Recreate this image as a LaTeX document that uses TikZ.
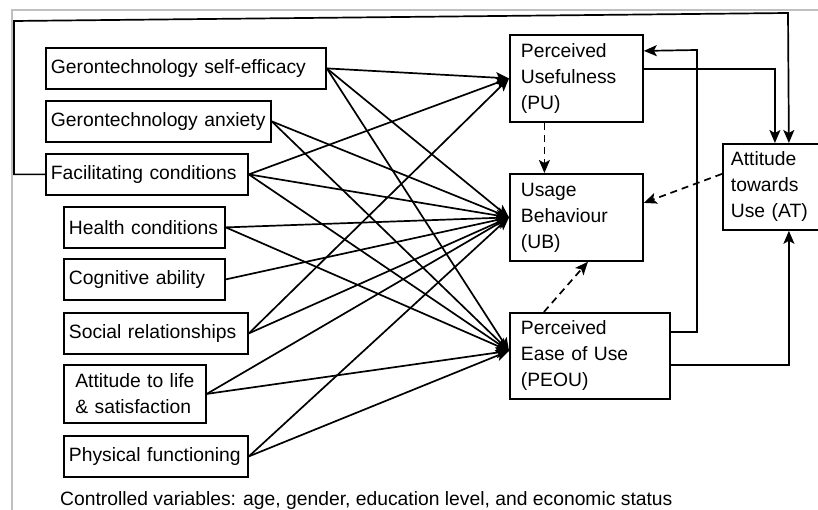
\documentclass[tikz,border=0pt]{standalone}
\usepackage{fontspec}
\setmainfont{Liberation Sans}
\usepackage{tikz}
\usetikzlibrary{positioning, arrows.meta}

\begin{document}
\begin{tikzpicture}[x=1pt, y=-1pt,
  box/.style={draw, line width=1.8pt, anchor=north west, align=left,
    inner xsep=5pt, inner ysep=0pt, font=\fontsize{19.3}{26}\selectfont},
  arr/.style={line width=1.7pt, -{Stealth[length=13pt, width=11pt, inset=3pt]}},
  dasharr/.style={arr, dash pattern=on 7pt off 5pt}]
\useasboundingbox (0,0) rectangle (818,510);

% --- screenshot frame ---
\draw[black!25, line width=2pt] (12,515) -- (12,10) -- (820,10);

% --- Antecedents ---
\node[box, text width=270pt, minimum height=41pt] (selfeff) at (45,47) {Gerontechnology self-efficacy};
\node[box, text width=215pt, minimum height=41pt] (anxiety) at (45,100) {Gerontechnology anxiety};
\node[box, text width=192pt, minimum height=41pt] (facil) at (45,153) {Facilitating conditions};
\node[box, text width=151pt, minimum height=41pt] (health) at (63,206) {Health conditions};
\node[box, text width=151pt, minimum height=41pt] (cognit) at (63,258) {Cognitive ability};
\node[box, text width=174pt, minimum height=41pt] (social) at (63,312) {Social relationships};
\node[box, text width=132pt, minimum height=58pt] (lifesat) at (63,364) {\ Attitude to life\\\ \& satisfaction};
\node[box, text width=174pt, minimum height=41pt] (physic) at (63,435) {Physical functioning};

% --- TAM constructs ---
\node[box, inner xsep=11pt, text width=111pt, minimum height=87pt] (pu) at (509,34) {Perceived\\Usefulness\\(PU)};
\node[box, inner xsep=11pt, text width=111pt, minimum height=87pt] (ub) at (509,173) {Usage\\Behaviour\\(UB)};
\node[box, inner xsep=11pt, text width=138pt, minimum height=86pt] (peou) at (509,312) {Perceived\\Ease of Use\\(PEOU)};
\node[box, inner xsep=8pt, text width=88pt, minimum height=86pt] (at) at (722,143) {Attitude\\towards\\Use (AT)};

% --- caption ---
\node[anchor=base west, inner sep=0pt, font=\fontsize{19.3}{24}\selectfont] (ctrl) at (60,505)
  {Controlled variables: age, gender, education level, and economic status};

% --- paths to PU ---
\foreach \src in {selfeff, facil, social}
  \draw[arr] (\src.east) -- (pu.west);

% --- paths to UB ---
\foreach \src in {selfeff, anxiety, facil, health, cognit, social, lifesat, physic}
  \draw[arr] (\src.east) -- (ub.west);

% --- paths to PEOU ---
\foreach \src in {selfeff, anxiety, facil, health, lifesat, physic}
  \draw[arr] (\src.east) -- ([yshift=5pt]peou.west);

% --- links among TAM constructs ---
\coordinate (loopL) at (14,21);
\coordinate (loopR) at (788,13);
\coordinate (peTurn) at (697,50);
\draw[arr] (facil.west) -| (loopL) -- (loopR) -- ([xshift=14pt]at.north);
\draw[arr] ([yshift=9.5pt]pu.east) -| (at.north);
\draw[arr] ([yshift=24pt]peou.east) -| (peTurn) -- ([yshift=27.5pt]pu.east);
\draw[arr] ([yshift=-9pt]peou.east) -| ([xshift=14pt]at.south);
\draw[dasharr] ([xshift=-32pt]pu.south) -- ([xshift=-32pt]ub.north);
\draw[dasharr] ([yshift=13pt]at.west) -- ([yshift=14.5pt]ub.east);
\draw[dasharr] ([xshift=-46pt]peou.north) -- ([xshift=11.5pt]ub.south);
\end{tikzpicture}
\end{document}
